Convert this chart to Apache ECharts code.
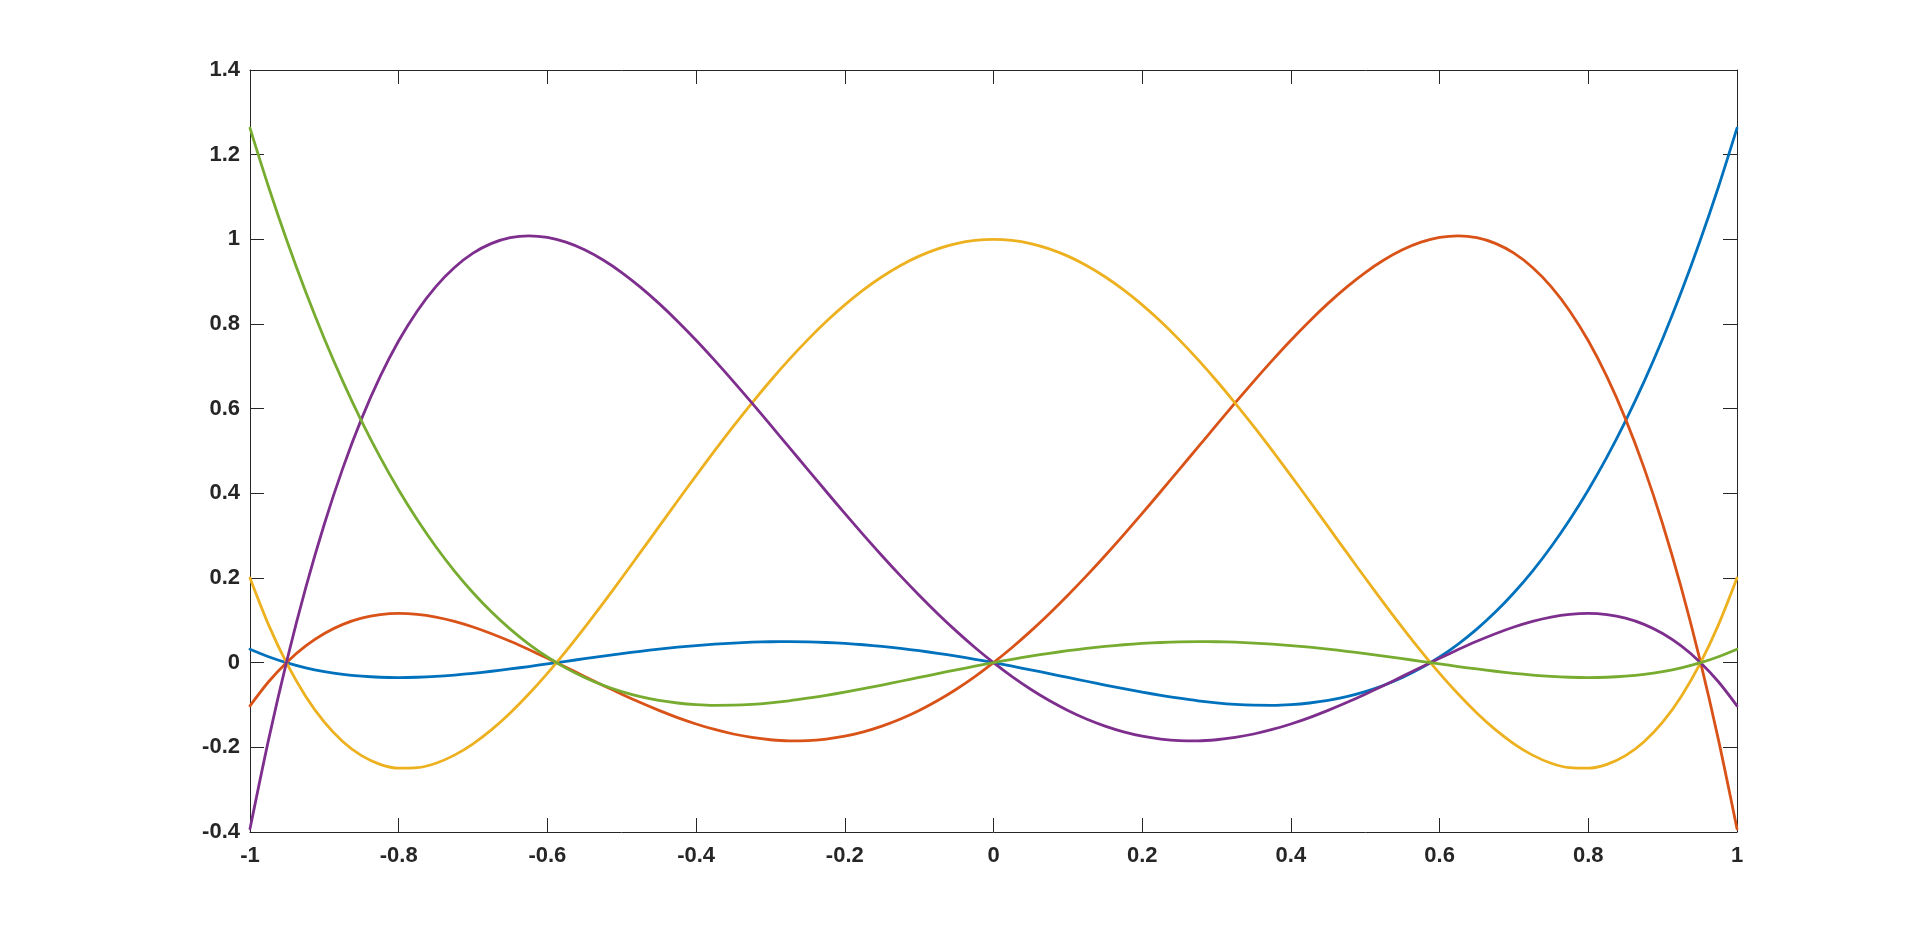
<!DOCTYPE html>
<html>
<head>
<meta charset="utf-8">
<script src="https://cdn.jsdelivr.net/npm/echarts@6/dist/echarts.min.js"></script>
<style>
html,body{margin:0;padding:0;background:#fff;}
#main{width:1920px;height:936px;}
</style>
</head>
<body>
<div id="main"></div>
<script>
// x samples from -1 to 1 (step 0.025)
const xs = [
 -1.000,-0.975,-0.950,-0.925,-0.900,-0.875,-0.850,-0.825,-0.800,-0.775,
 -0.750,-0.725,-0.700,-0.675,-0.650,-0.625,-0.600,-0.575,-0.550,-0.525,
 -0.500,-0.475,-0.450,-0.425,-0.400,-0.375,-0.350,-0.325,-0.300,-0.275,
 -0.250,-0.225,-0.200,-0.175,-0.150,-0.125,-0.100,-0.075,-0.050,-0.025,
  0.000, 0.025, 0.050, 0.075, 0.100, 0.125, 0.150, 0.175, 0.200, 0.225,
  0.250, 0.275, 0.300, 0.325, 0.350, 0.375, 0.400, 0.425, 0.450, 0.475,
  0.500, 0.525, 0.550, 0.575, 0.600, 0.625, 0.650, 0.675, 0.700, 0.725,
  0.750, 0.775, 0.800, 0.825, 0.850, 0.875, 0.900, 0.925, 0.950, 0.975,
  1.000];

const blueVals = [
 0.0317,0.0140,-0.0006,-0.0122,-0.0211,-0.0277,-0.0320,-0.0345,-0.0352,-0.0344,
 -0.0324,-0.0292,-0.0251,-0.0203,-0.0149,-0.0091,-0.0030,0.0032,0.0094,0.0155,
 0.0213,0.0268,0.0319,0.0365,0.0404,0.0438,0.0464,0.0483,0.0494,0.0496,
 0.0491,0.0476,0.0454,0.0423,0.0384,0.0337,0.0282,0.0221,0.0153,0.0079,
 0,-0.0083,-0.0170,-0.0259,-0.0349,-0.0439,-0.0528,-0.0614,-0.0695,-0.0772,
 -0.0840,-0.0900,-0.0948,-0.0984,-0.1004,-0.1007,-0.0991,-0.0953,-0.0892,-0.0803,
 -0.0685,-0.0535,-0.0351,-0.0129,0.0134,0.0440,0.0793,0.1195,0.1652,0.2164,
 0.2738,0.3375,0.4080,0.4856,0.5707,0.6638,0.7652,0.8754,0.9948,1.1237,
 1.2628];

const orangeVals = [
 -0.1019,-0.0451,0.0018,0.0395,0.0688,0.0904,0.1050,0.1134,0.1163,0.1141,
 0.1077,0.0976,0.0843,0.0684,0.0505,0.0309,0.0103,-0.0109,-0.0324,-0.0537,
 -0.0744,-0.0942,-0.1127,-0.1297,-0.1448,-0.1578,-0.1685,-0.1766,-0.1821,-0.1846,
 -0.1841,-0.1804,-0.1736,-0.1634,-0.1499,-0.1331,-0.1130,-0.0895,-0.0628,-0.0329,
 0,0.0358,0.0745,0.1157,0.1593,0.2050,0.2527,0.3020,0.3526,0.4043,
 0.4566,0.5091,0.5616,0.6135,0.6645,0.7140,0.7616,0.8066,0.8487,0.8872,
 0.9216,0.9511,0.9753,0.9933,1.0046,1.0084,1.0040,0.9905,0.9674,0.9336,
 0.8884,0.8309,0.7603,0.6755,0.5759,0.4602,0.3276,0.1771,0.0076,-0.1819,
 -0.3925];

const yellowVals = [
 0.2000,0.0893,-0.0036,-0.0798,-0.1405,-0.1867,-0.2196,-0.2401,-0.2493,-0.2481,
 -0.2375,-0.2184,-0.1917,-0.1582,-0.1188,-0.0742,-0.0253,0.0273,0.0828,0.1406,
 0.2000,0.2604,0.3212,0.3819,0.4419,0.5008,0.5580,0.6132,0.6659,0.7158,
 0.7625,0.8057,0.8451,0.8805,0.9116,0.9383,0.9603,0.9776,0.9900,0.9975,
 1.0000,0.9975,0.9900,0.9776,0.9603,0.9383,0.9116,0.8805,0.8451,0.8057,
 0.7625,0.7158,0.6659,0.6132,0.5580,0.5008,0.4419,0.3819,0.3212,0.2604,
 0.2000,0.1406,0.0828,0.0273,-0.0253,-0.0742,-0.1188,-0.1582,-0.1917,-0.2184,
 -0.2375,-0.2481,-0.2493,-0.2401,-0.2196,-0.1867,-0.1405,-0.0798,-0.0036,0.0893,
 0.2000];

const purpleVals = [
 -0.3925,-0.1819,0.0076,0.1771,0.3276,0.4602,0.5759,0.6755,0.7603,0.8309,
 0.8884,0.9336,0.9674,0.9905,1.0040,1.0084,1.0046,0.9933,0.9753,0.9511,
 0.9216,0.8872,0.8487,0.8066,0.7616,0.7140,0.6645,0.6135,0.5616,0.5091,
 0.4566,0.4043,0.3526,0.3020,0.2527,0.2050,0.1593,0.1157,0.0745,0.0358,
 0,-0.0329,-0.0628,-0.0895,-0.1130,-0.1331,-0.1499,-0.1634,-0.1736,-0.1804,
 -0.1841,-0.1846,-0.1821,-0.1766,-0.1685,-0.1578,-0.1448,-0.1297,-0.1127,-0.0942,
 -0.0744,-0.0537,-0.0324,-0.0109,0.0103,0.0309,0.0505,0.0684,0.0843,0.0976,
 0.1077,0.1141,0.1163,0.1134,0.1050,0.0904,0.0688,0.0395,0.0018,-0.0451,
 -0.1019];

const greenVals = [
 1.2628,1.1237,0.9948,0.8754,0.7652,0.6638,0.5707,0.4856,0.4080,0.3375,
 0.2738,0.2164,0.1652,0.1195,0.0793,0.0440,0.0134,-0.0129,-0.0351,-0.0535,
 -0.0685,-0.0803,-0.0892,-0.0953,-0.0991,-0.1007,-0.1004,-0.0984,-0.0948,-0.0900,
 -0.0840,-0.0772,-0.0695,-0.0614,-0.0528,-0.0439,-0.0349,-0.0259,-0.0170,-0.0083,
 0,0.0079,0.0153,0.0221,0.0282,0.0337,0.0384,0.0423,0.0454,0.0476,
 0.0491,0.0496,0.0494,0.0483,0.0464,0.0438,0.0404,0.0365,0.0319,0.0268,
 0.0213,0.0155,0.0094,0.0032,-0.0030,-0.0091,-0.0149,-0.0203,-0.0251,-0.0292,
 -0.0324,-0.0344,-0.0352,-0.0345,-0.0320,-0.0277,-0.0211,-0.0122,-0.0006,0.0140,
 0.0317];

const seriesDefs = [
  {name:'L1', vals: blueVals,   color:'#0072BD'},
  {name:'L2', vals: orangeVals, color:'#D95319'},
  {name:'L3', vals: yellowVals, color:'#EDB120'},
  {name:'L4', vals: purpleVals, color:'#7E2F8E'},
  {name:'L5', vals: greenVals,  color:'#77AC30'}
];

const axisColor = '#262626';
const labelStyle = {color:'#262626', fontFamily:'Liberation Sans, Arial, Helvetica, sans-serif', fontWeight:'bold', fontSize:22};

function frameAxis(pos, showLabel, margin) {
  return {
    type:'value', position:pos,
    axisLine:{show:true, onZero:false, lineStyle:{color:axisColor, width:1}},
    axisTick:{show:true, inside:true, length:14, lineStyle:{color:axisColor, width:1}},
    axisLabel: showLabel ? Object.assign({margin:margin}, labelStyle) : {show:false},
    splitLine:{show:false}
  };
}

const xBottom = Object.assign(frameAxis('bottom', true, 13), {min:-1, max:1, interval:0.2});
const xTop = Object.assign(frameAxis('top', false, 0), {min:-1, max:1, interval:0.2});
const yLeft = Object.assign(frameAxis('left', true, 10), {min:-0.4, max:1.4, interval:0.2});
const yRight = Object.assign(frameAxis('right', false, 0), {min:-0.4, max:1.4, interval:0.2});

const chart = echarts.init(document.getElementById('main'), null, {renderer:'canvas'});
chart.setOption({
  animation:false,
  backgroundColor:'#ffffff',
  grid:{left:250, right:183, top:70, bottom:104, containLabel:false},
  xAxis:[xBottom, xTop],
  yAxis:[yLeft, yRight],
  series: seriesDefs.map(s => ({
    name:s.name, type:'line', xAxisIndex:0, yAxisIndex:0,
    data: xs.map((x,i) => [x, s.vals[i]]),
    smooth:0.3, showSymbol:false, symbol:'none',
    lineStyle:{color:s.color, width:2.8, join:'round', cap:'round'},
    itemStyle:{color:s.color}
  }))
});
</script>
</body>
</html>
